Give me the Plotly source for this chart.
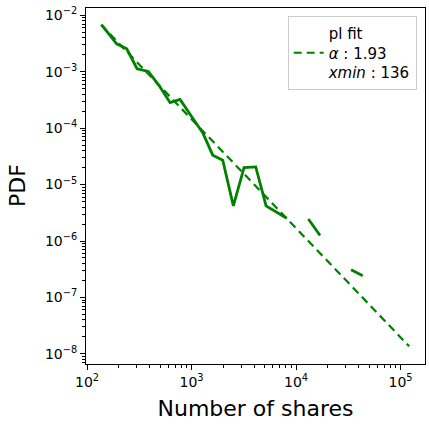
import plotly.graph_objects as go

# Empirical PDF (log-binned), None = empty bin (gap)
shares = [138, 192, 240, 301, 386, 489, 623, 776, 1288, 1596, 1989, 2512,
          3180, 4116, 5164, 6437, 8147, None, 13120, 16970, None, 33600, 43450]
pdf = [6.77e-3, 3.12e-3, 2.55e-3, 1.13e-3, 1.01e-3, 5.7e-4, 2.83e-4, 3.24e-4,
       8.1e-5, 3.32e-5, 2.71e-5, 4.2e-6, 2.01e-5, 2.06e-5, 4.2e-6, 3.27e-6,
       2.53e-6, None, 2.46e-6, 1.25e-6, None, 3.09e-7, 2.42e-7]

# Power-law fit line end points
fit_x = [136, 121000]
fit_y = [6.84e-3, 1.36e-8]
fit_label = "pl fit<br><i>α</i> : 1.93<br><i>xmin</i> : 136"

xticks = [1e2, 1e3, 1e4, 1e5]
xtext = ["10<sup>2</sup>", "10<sup>3</sup>", "10<sup>4</sup>", "10<sup>5</sup>"]
yticks = [1e-8, 1e-7, 1e-6, 1e-5, 1e-4, 1e-3, 1e-2]
ytext = ["10<sup>−8</sup>", "10<sup>−7</sup>", "10<sup>−6</sup>", "10<sup>−5</sup>",
         "10<sup>−4</sup>", "10<sup>−3</sup>", "10<sup>−2</sup>"]

green = "#008000"
font = "DejaVu Sans"

fig = go.Figure()
fig.add_trace(go.Scatter(x=shares, y=pdf, mode="lines", connectgaps=False,
                         line=dict(color=green, width=2.8), showlegend=False))
fig.add_trace(go.Scatter(x=fit_x, y=fit_y, mode="lines", name=fit_label,
                         line=dict(color=green, width=2.2, dash="8px,5px")))

axis_common = dict(
    type="log", showgrid=False, zeroline=False, automargin=False,
    showline=True, linecolor="black", linewidth=1, mirror=True,
    ticks="outside", ticklen=5, tickwidth=1, tickcolor="black",
    tickfont=dict(family=font, size=14, color="black"),
    minor=dict(ticks="outside", ticklen=3, tickwidth=0.8, tickcolor="black",
               dtick="D1", showgrid=False),
)

fig.update_layout(
    width=429, height=427,
    margin=dict(l=86, r=4, t=8, b=63),
    paper_bgcolor="white", plot_bgcolor="white",
    font=dict(family=font, color="black"),
    xaxis=dict(axis_common, range=[1.99, 5.234], tickvals=xticks, ticktext=xtext,
               title=dict(text="Number of shares", font=dict(family=font, size=22),
                          standoff=11)),
    yaxis=dict(axis_common, range=[-8.18, -1.87], tickvals=yticks, ticktext=ytext),
    annotations=[dict(text="PDF", xref="paper", yref="paper", x=-0.2035, y=0.5,
                      xanchor="center", yanchor="middle", textangle=-90,
                      showarrow=False, font=dict(family=font, size=22, color="black"))],
    legend=dict(x=0.9755, y=0.9775, xanchor="right", yanchor="top",
                bgcolor="rgba(255,255,255,0.8)", bordercolor="#cccccc", borderwidth=1,
                font=dict(family=font, size=15, color="black"), itemwidth=30,
                valign="middle"),
)

fig.write_html("out.html", config={"displayModeBar": False},
               post_script="document.body.style.margin='0';document.body.style.padding='0';")
